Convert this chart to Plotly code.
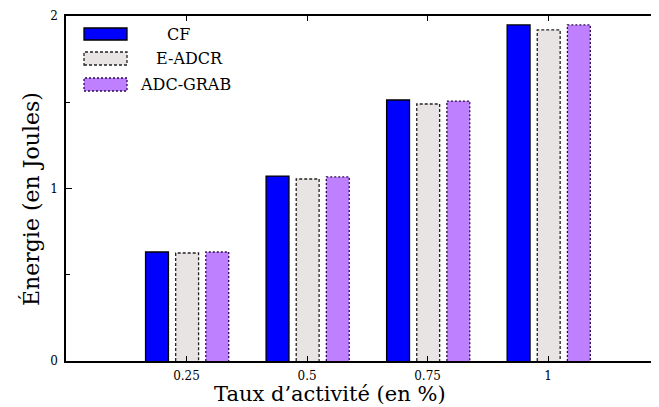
import plotly.graph_objects as go

# data
categories = ['0.25', '0.5', '0.75', '1']
cf = [0.632, 1.072, 1.513, 1.948]
e_adcr = [0.626, 1.055, 1.490, 1.919]
adc_grab = [0.632, 1.067, 1.507, 1.948]

SERIF = '"DejaVu Serif", "Liberation Serif", serif'
xpos = [1, 2, 3, 4]
bar_w = 0.19
series = [
    ('CF', cf, '#0000FF', 'black', 'solid', -0.34),
    ('E-ADCR', e_adcr, '#E9E4E4', '#222222', '3px,2px', -0.09),
    ('ADC-GRAB', adc_grab, '#BF80FF', '#2a0a4a', '2px,2px', 0.16),
]

fig = go.Figure()
for name, vals, fill, lc, dash, off in series:
    fig.add_trace(go.Bar(x=xpos, y=vals, width=bar_w, offset=off, name=name,
                         marker=dict(color=fill, line=dict(width=0)), showlegend=False))
    # outlines (dashed / dotted) built from the same data
    ox, oy = [], []
    for xv, v in zip(xpos, vals):
        l = xv + off
        r = l + bar_w
        ox += [l, l, r, r, None]
        oy += [0, v, v, 0, None]
    fig.add_trace(go.Scatter(x=ox, y=oy, mode='lines', showlegend=False, hoverinfo='skip',
                             line=dict(color=lc, width=1.3, dash=dash)))

fig.update_layout(barmode='overlay')

# page has an 8px body margin -> plot area sits at x 66..659, y 16..361
px0, pw, py0, ph = 66, 593, 361, 345
def xp(p): return (p - px0) / pw
def yp(p): return (py0 - p) / ph

# legend drawn by hand (big rectangle keys like the original)
legend_rows = [(28, 40, 178), (52, 65, 189), (78, 91, 185)]
for (name, vals, fill, lc, dash, off), (t, b, tx) in zip(series, legend_rows):
    fig.add_shape(type='rect', xref='paper', yref='paper',
                  x0=xp(84), x1=xp(127), y0=yp(b), y1=yp(t),
                  fillcolor=fill, line=dict(color=lc, width=1.3, dash=dash))
    fig.add_annotation(xref='paper', yref='paper', x=xp(tx), y=yp((t + b) / 2),
                       text=name, showarrow=False, xanchor='center', yanchor='middle',
                       font=dict(family=SERIF, size=16, color='black'))

# axis titles
fig.add_annotation(xref='paper', yref='paper', x=xp(330), y=yp(394),
                   text="Taux d’activité (en %)", showarrow=False,
                   xanchor='center', yanchor='middle',
                   font=dict(family=SERIF, size=21, color='black'))
fig.add_annotation(xref='paper', yref='paper', x=xp(31), y=yp(199),
                   text='Énergie (en Joules)', showarrow=False, textangle=-90,
                   xanchor='center', yanchor='middle',
                   font=dict(family=SERIF, size=22, color='black'))

fig.update_xaxes(range=[0, 4.92], tickvals=xpos, ticktext=categories,
                 showline=True, linecolor='black', linewidth=1.5, mirror='ticks',
                 ticks='inside', ticklen=5, tickcolor='black', showgrid=False, zeroline=False,
                 tickfont=dict(family=SERIF, size=12, color='black'),
                 ticklabelstandoff=3)
fig.update_yaxes(range=[0, 2], tickvals=[0, 1, 2], ticktext=['0', '1', '2'],
                 showline=True, linecolor='black', linewidth=1.5, mirror=False,
                 ticks='inside', ticklen=6, tickcolor='black', showgrid=False, zeroline=False,
                 minor=dict(tickvals=[0.5, 1.5], ticks='inside', ticklen=4, tickcolor='black'),
                 tickfont=dict(family=SERIF, size=12, color='black'),
                 ticklabelstandoff=4)

fig.update_layout(width=651, height=399, plot_bgcolor='white', paper_bgcolor='white',
                  margin=dict(l=58, r=0, t=8, b=46, autoexpand=False))
fig.write_html('out.html')
